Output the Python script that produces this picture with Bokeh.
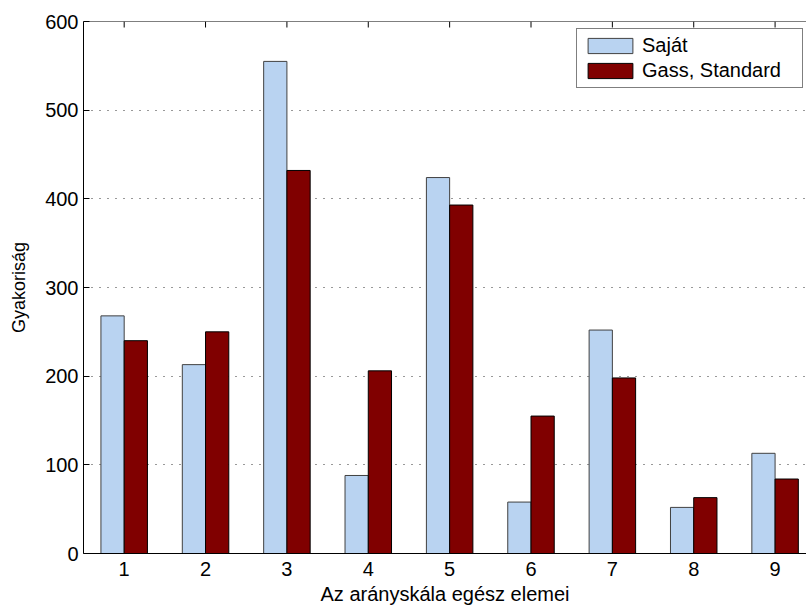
from bokeh.plotting import figure
from bokeh.models import Range1d, FixedTicker, Legend, LegendItem, ColumnDataSource, Span
from bokeh.transform import dodge
from bokeh.embed import file_html
from bokeh.resources import INLINE

categories = [1, 2, 3, 4, 5, 6, 7, 8, 9]
sajat = [268, 213, 555, 88, 424, 58, 252, 52, 113]
gass_standard = [240, 250, 432, 206, 393, 155, 198, 63, 84]
y_ticks = [0, 100, 200, 300, 400, 500, 600]
series_names = ["Saját", "Gass, Standard"]
x_label = "Az arányskála egész elemei"
y_label = "Gyakoriság"

Y_MAX = 600
src = ColumnDataSource(dict(x=categories, sajat=sajat, gass=gass_standard))

FONT = "Liberation Sans"

p = figure(width=806, height=607, output_backend="svg", toolbar_location=None,
           x_range=Range1d(0.5, 9.386), y_range=Range1d(0, Y_MAX),
           min_border_left=83, min_border_right=0, min_border_top=21,
           min_border_bottom=54)
p.outline_line_color = None
p.background_fill_color = "white"
p.border_fill_color = "white"
p.xgrid.visible = False

bar_w = 2 / 7
b1 = p.vbar(x=dodge('x', -bar_w / 2, range=p.x_range), top='sajat', width=bar_w,
            source=src, fill_color="#b9d3f1", line_color="#404040", line_width=1)
b2 = p.vbar(x=dodge('x', bar_w / 2, range=p.x_range), top='gass', width=bar_w,
            source=src, fill_color="#800000", line_color="#000000", line_width=1)

# grid
p.ygrid.ticker = FixedTicker(ticks=y_ticks)
p.ygrid.grid_line_dash = "1 7"
p.ygrid.grid_line_color = "#333333"
p.ygrid.grid_line_width = 1

# x axis (bottom)
xa = p.xaxis[0]
xa.ticker = FixedTicker(ticks=categories)
xa.major_tick_in = 0
xa.major_tick_out = 0
xa.minor_tick_in = 0
xa.minor_tick_out = 0
xa.axis_line_color = "black"
xa.major_label_standoff = 8
xa.major_label_text_font = FONT
xa.major_label_text_font_size = "20px"
xa.major_label_text_color = "black"
xa.axis_label = x_label
xa.axis_label_text_font = FONT
xa.axis_label_text_font_size = "20px"
xa.axis_label_text_font_style = "normal"
xa.axis_label_text_color = "black"
xa.axis_label_standoff = 4

# y axis (left)
ya = p.yaxis[0]
ya.ticker = FixedTicker(ticks=y_ticks)
ya.major_tick_in = 6
ya.major_tick_out = 0
ya.minor_tick_in = 0
ya.minor_tick_out = 0
ya.axis_line_color = "black"
ya.major_label_standoff = 5
ya.major_label_text_font = FONT
ya.major_label_text_font_size = "20px"
ya.major_label_text_color = "black"
ya.axis_label = y_label
ya.axis_label_text_font = FONT
ya.axis_label_text_font_size = "18px"
ya.axis_label_text_font_style = "normal"
ya.axis_label_text_color = "black"
ya.axis_label_standoff = 13

# top box line with inward ticks
p.add_layout(Span(location=Y_MAX, dimension="width", line_color="black", line_width=1))
tick_len = 6 * Y_MAX / 532
p.segment(x0=categories, y0=[Y_MAX] * len(categories), x1=categories,
          y1=[Y_MAX - tick_len] * len(categories), line_color="black", line_width=1)

legend = Legend(items=[LegendItem(label=series_names[0], renderers=[b1]),
                       LegendItem(label=series_names[1], renderers=[b2])],
                location=(493, 465), border_line_color="black", border_line_width=1,
                background_fill_color="white", background_fill_alpha=1.0,
                glyph_width=56, glyph_height=19, label_height=19, padding=5,
                spacing=2, label_standoff=4, label_width=155, margin=0,
                label_text_font=FONT, label_text_font_size="20px",
                label_text_color="black")
p.add_layout(legend)

open("out.html", "w").write(file_html(p, INLINE))
